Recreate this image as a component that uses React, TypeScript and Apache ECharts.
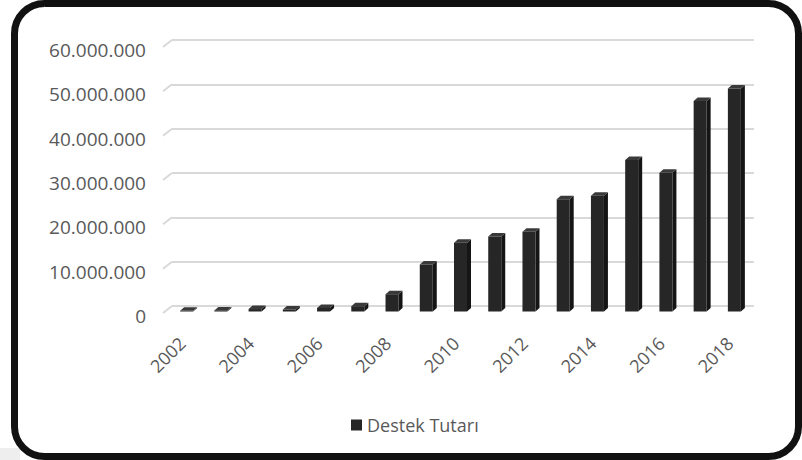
import React, { useEffect, useRef } from "react";
import * as echarts from "echarts";

const years = ["2002","2003","2004","2005","2006","2007","2008","2009","2010","2011","2012","2013","2014","2015","2016","2017","2018"];
const destekTutari = [150000, 250000, 550000, 450000, 800000, 1200000, 3900000, 10600000, 15500000, 16900000, 18000000, 25300000, 26100000, 34200000, 31300000, 47500000, 50300000];
const yTicks = [0, 10000000, 20000000, 30000000, 40000000, 50000000, 60000000];
const seriesName = "Destek Tutarı";

const fmt = (v: number) => String(v).replace(/\B(?=(\d{3})+(?!\d))/g, ".");

export default function App() {
  const ref = useRef<HTMLDivElement>(null);
  useEffect(() => {
    if (!ref.current) return;
    const chart = echarts.init(ref.current, null, { renderer: "svg" });
    const textColor = "#595959";
    const font = "'Open Sans', sans-serif";
    chart.setOption({
      animation: false,
      backgroundColor: "#ffffff",
      grid: { left: 172, right: 48, top: 40, bottom: 154 },
      legend: {
        data: [seriesName],
        left: 346,
        top: 411,
        icon: "rect",
        itemWidth: 11,
        itemHeight: 11,
        textStyle: { color: textColor, fontSize: 18, fontFamily: font },
      },
      xAxis: {
        type: "category",
        data: years,
        boundaryGap: true,
        axisLine: { show: false },
        axisTick: { show: false },
        splitLine: { show: false },
        axisLabel: {
          interval: 1,
          rotate: 45,
          margin: 41,
          verticalAlign: "bottom",
          lineHeight: 20,
          color: textColor,
          fontSize: 18,
          fontFamily: font,
        },
      },
      yAxis: {
        type: "value",
        min: 0,
        max: 60000000,
        interval: 10000000,
        axisLine: { show: false },
        axisTick: { show: false },
        splitLine: { show: true, lineStyle: { color: "#d9d9d9", width: 2 } },
        axisLabel: {
          margin: 26,
          verticalAlign: "top",
          lineHeight: 20,
          color: textColor,
          fontSize: 19,
          fontFamily: font,
          formatter: (v: number) => fmt(v),
        },
      },
      series: [
        {
          type: "custom",
          name: "gridDiag",
          silent: true,
          data: yTicks.map((t) => [0, t]),
          encode: { x: 0, y: 1 },
          renderItem: (params: any, api: any) => {
            const p = api.coord([0, api.value(1)]);
            const bw = api.size([1, 0])[0];
            const x0 = p[0] - bw / 2;
            return {
              type: "line",
              shape: { x1: x0, y1: p[1], x2: x0 - 9, y2: p[1] + 7 },
              style: { stroke: "#d9d9d9", lineWidth: 2 },
            };
          },
        },
        {
          type: "custom",
          name: seriesName,
          itemStyle: { color: "#262626" },
          data: years.map((y, i) => [i, destekTutari[i]]),
          encode: { x: 0, y: 1 },
          renderItem: (params: any, api: any) => {
            const idx = api.value(0);
            const v = api.value(1);
            const top = api.coord([idx, v]);
            const base = api.coord([idx, 0]);
            const c = top[0];
            const fl = c - 9;
            const fr = c + 4;
            const ftop = top[1] + 5.5;
            const fbot = base[1] + 5.5;
            const dx = 4;
            const dy = -3.5;
            return {
              type: "group",
              children: [
                {
                  type: "polygon",
                  shape: { points: [[fr, ftop], [fr + dx, ftop + dy], [fr + dx, fbot + dy], [fr, fbot]] },
                  style: { fill: "#151515" },
                },
                {
                  type: "polygon",
                  shape: { points: [[fl, ftop], [fl + dx, ftop + dy], [fr + dx, ftop + dy], [fr, ftop]] },
                  style: { fill: "#3a3a3a" },
                },
                {
                  type: "rect",
                  shape: { x: fl, y: ftop, width: fr - fl, height: fbot - ftop },
                  style: { fill: "#262626" },
                },
              ],
            };
          },
        },
      ],
      graphic: [
        {
          type: "rect",
          z: -10,
          shape: { x: 0, y: 448, width: 20, height: 12 },
          style: { fill: "#eeeeee" },
        },
        {
          type: "rect",
          z: 100,
          shape: { x: 14.5, y: 3.5, width: 784, height: 453, r: 30 },
          style: { fill: "none", stroke: "#111111", lineWidth: 7 },
        },
      ],
    });
    return () => chart.dispose();
  }, []);
  return (
    <div
      ref={ref}
      style={{ position: "fixed", left: 0, top: 0, width: 802, height: 460 }}
    />
  );
}
